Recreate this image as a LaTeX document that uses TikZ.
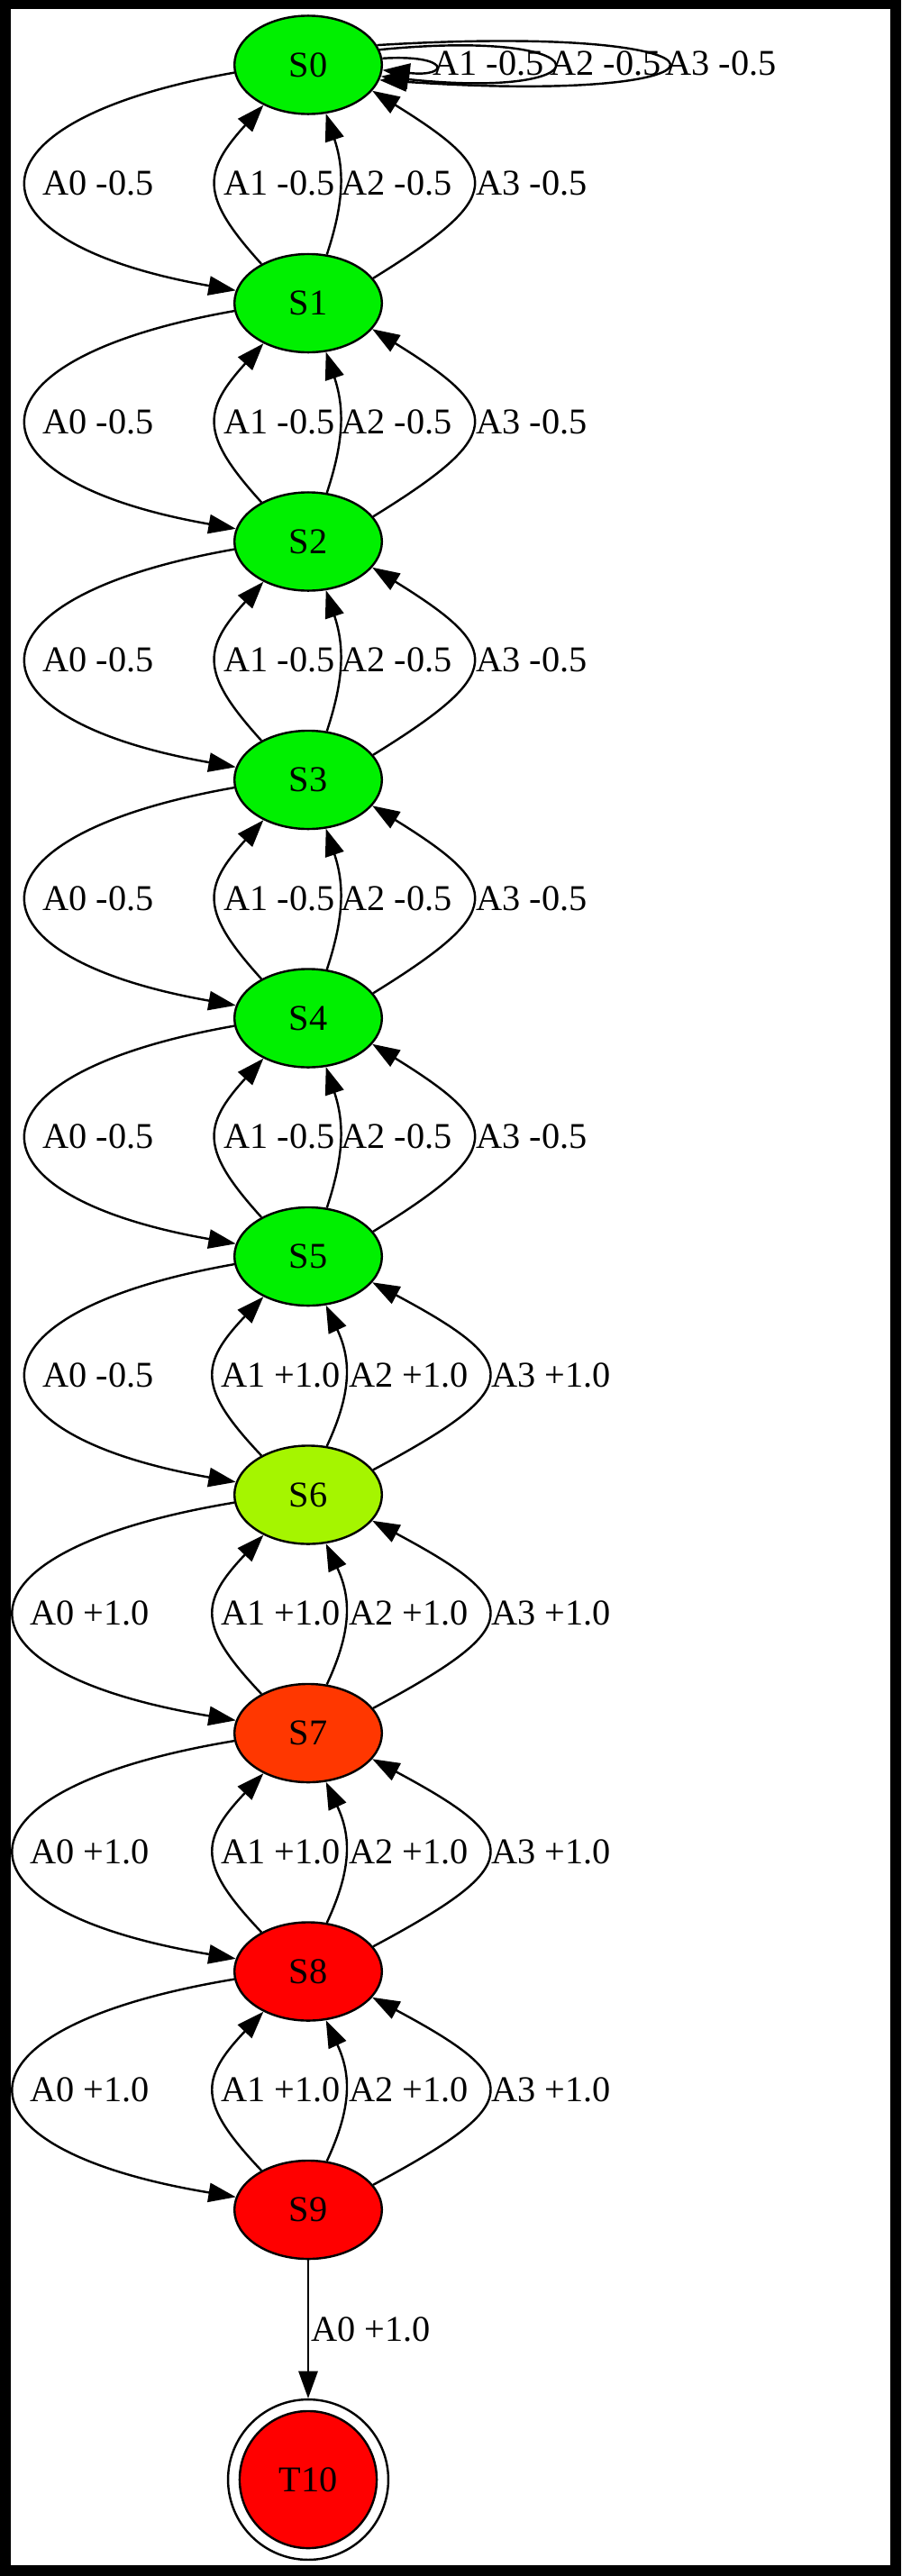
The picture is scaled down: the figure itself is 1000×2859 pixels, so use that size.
\documentclass[tikz,border=0pt]{standalone}
\usepackage{fontspec}
\setmainfont{Liberation Serif}
\usetikzlibrary{shapes.geometric,arrows.meta}
\definecolor{cg}{RGB}{0,240,0}
\definecolor{cyg}{RGB}{165,245,0}
\definecolor{cor}{RGB}{255,55,0}
\definecolor{cr}{RGB}{255,0,0}
\newcommand\fsz{\fontsize{13.3pt}{16pt}\selectfont}
\begin{document}
\begin{tikzpicture}[x=0.33pt,y=0.33pt,
  st/.style={ellipse, draw, line width=0.8pt, minimum width=54pt, minimum height=36pt, inner sep=0pt, font=\fsz},
  lbl/.style={anchor=base west, inner sep=0pt, font=\fsz},
  arc/.style={draw, line width=0.8pt, -{Triangle[length=10pt,width=7pt]}}]
\useasboundingbox (0,0) rectangle (1000,-2859);
\fill[black] (0,0) rectangle (1000,-2859);
\fill[white] (11.5,-10) rectangle (988,-2847);
% states
\node[st, fill=cg] (S0) at (342,-72) {S0};
\node[st, fill=cg] (S1) at (342,-336.5) {S1};
\node[st, fill=cg] (S2) at (342,-601) {S2};
\node[st, fill=cg] (S3) at (342,-865.5) {S3};
\node[st, fill=cg] (S4) at (342,-1130) {S4};
\node[st, fill=cg] (S5) at (342,-1394.5) {S5};
\node[st, fill=cyg] (S6) at (342,-1659) {S6};
\node[st, fill=cor] (S7) at (342,-1923.5) {S7};
\node[st, fill=cr] (S8) at (342,-2188) {S8};
\node[st, fill=cr] (S9) at (342,-2452.5) {S9};
\node[circle, draw, line width=0.8pt, minimum size=58.7pt, inner sep=0pt] (T10) at (342,-2752) {};
\node[circle, draw, line width=0.8pt, fill=cr, minimum size=50.2pt, inner sep=0pt, font=\fsz] (T10core) at (T10.center) {T10};
% self loops on S0
\draw[arc] (S0.5) .. controls (500,-60) and (500,-86) .. (S0.-4);
\draw[arc] (S0.12) .. controls (677,-30) and (677,-112) .. (S0.-9);
\draw[arc] (S0.16) .. controls (847,-24) and (847,-118) .. (S0.-12);
\node[lbl] (l00a) at (480,-83) {A1 -0.5};
\node[lbl] (l00b) at (610,-83) {A2 -0.5};
\node[lbl] (l00c) at (738,-83) {A3 -0.5};
% A0 edges downward
\foreach \i/\k/\lx/\t in {0/307/47/-0.5, 1/307/47/-0.5, 2/307/47/-0.5, 3/307/47/-0.5, 4/307/47/-0.5, 5/307/47/-0.5, 6/325/33/+1.0, 7/325/33/+1.0, 8/325/33/+1.0}{
  \pgfmathtruncatemacro\j{\i+1}
  \pgfmathsetmacro\yb{-(216.75+264.5*\i)}
  \draw[arc] (S\i.186) .. controls +(-\k,-54) and +(-\k,54) .. (S\j.170);
  \node[lbl] (la\i) at (\lx,\yb) {A0 \t};
}
% A1, A2, A3 edges upward
\foreach \i/\ka/\la/\kb/\lb/\kc/\lc/\t in {0/68/248/20/378/147/528/-0.5, 1/68/248/20/378/147/528/-0.5, 2/68/248/20/378/147/528/-0.5, 3/68/248/20/378/147/528/-0.5, 4/68/248/20/378/147/528/-0.5, 5/71/245/28/387/170/545/+1.0, 6/71/245/28/387/170/545/+1.0, 7/71/245/28/387/170/545/+1.0, 8/71/245/28/387/170/545/+1.0}{
  \pgfmathtruncatemacro\j{\i+1}
  \pgfmathsetmacro\yb{-(216.75+264.5*\i)}
  \draw[arc] (S\j.140) .. controls +(-\ka,75) and +(-\ka,-75) .. (S\i.222);
  \draw[arc] (S\j.69) .. controls +(\kb,60) and +(\kb,-60) .. (S\i.290);
  \draw[arc] (S\j.21) .. controls +(\kc,91) and +(\kc,-91) .. (S\i.338);
  \node[lbl] (lb\i) at (\la,\yb) {A1 \t};
  \node[lbl] (lc\i) at (\lb,\yb) {A2 \t};
  \node[lbl] (ld\i) at (\lc,\yb) {A3 \t};
}
% terminal
\draw[arc] (S9.south) -- (T10.north);
\node[lbl] (lt) at (345,-2598) {A0 +1.0};
\end{tikzpicture}
\end{document}
